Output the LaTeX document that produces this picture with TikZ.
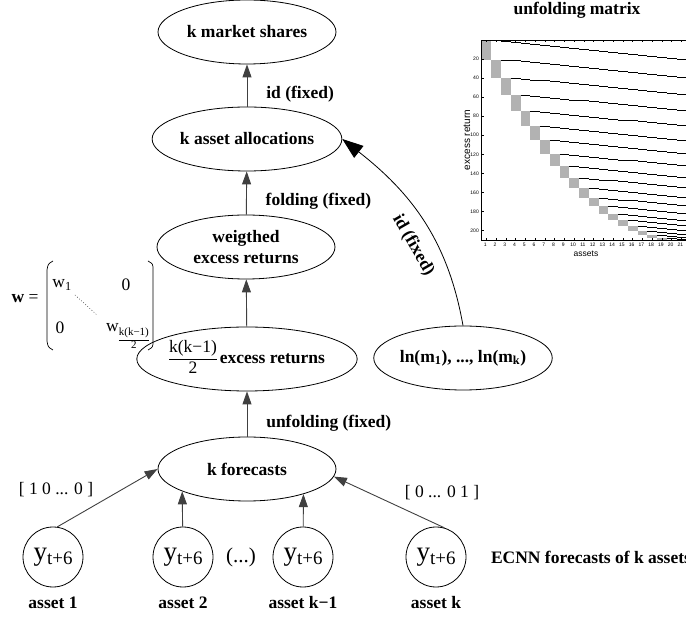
\documentclass[tikz,border=0pt]{standalone}
\usepackage{fontspec}
\setmainfont{Liberation Serif}
\setsansfont{Liberation Sans}
\usepackage{tikz}
\usetikzlibrary{shapes.geometric}
\usetikzlibrary{arrows.meta}

\begin{document}
\begin{tikzpicture}[x=1pt,y=1pt]
      \fontsize{17.5}{21}\selectfont
      \newcommand{\lbl}[1]{node[pos=0.3,anchor=west,xshift=13pt,font=\bfseries] {#1}}
      \newcommand{\txtfrac}[2]{{\mdseries\begin{tabular}{@{}c@{}}#1\\\hline #2\end{tabular}}}
      \newcommand{\yunit}{{\fontsize{27}{27}\selectfont y\raisebox{-4pt}{\fontsize{19}{19}\selectfont t+6}}}
      \tikzstyle{dedge} = [->,>={Triangle[length=13pt,width=9pt]},line width=0.9pt,draw=black!75]
      \tikzstyle{cedge} = [->,>={Triangle[length=21pt,width=15pt]},line width=0.8pt,draw=black]
      \tikzstyle{layer}=[
        ellipse,
        draw,
        line width=0.8pt,
        minimum width=178pt,
        minimum height=64pt,
        inner sep=0pt,
        align=center,
        font=\bfseries,
      ]
      \tikzstyle{unit}=[circle,draw,line width=0.8pt,minimum size=60pt,inner sep=0pt]
      \tikzstyle{tick}=[font=\sffamily\fontsize{5}{5}\selectfont,inner sep=0pt]

      \useasboundingbox (0,0) rectangle (686,619);

      \node[layer] (share) at (247,587) {k market shares};
      \node[layer] (alloc) at (247,480) {k asset allocations};
      \node[layer] (wret) at (246,372) {weigthed\\excess returns};
      \node[layer] (ret) at (247,260) {\txtfrac{k(k−1)}{2}\,excess returns};
      \node[layer] (fc) at (247,150) {k forecasts};
      \node[layer] (lnm) at (463,261) {ln(m\textsubscript{1}), ..., ln(m\textsubscript{k})};

      \node[unit] (a1) at (53,62) {\yunit};
      \node[unit] (a2) at (183,62) {\yunit};
      \node[unit] (a3) at (303,62) {\yunit};
      \node[unit] (a4) at (436,62) {\yunit};
      \node (more) at (241,62) {\fontsize{21}{21}\selectfont (...)};
      \node[font=\bfseries] (n1) at (53,16) {asset 1};
      \node[font=\bfseries] (n2) at (183,16) {asset 2};
      \node[font=\bfseries] (n3) at (303,16) {asset k−1};
      \node[font=\bfseries] (n4) at (436,16) {asset k};
      \node[font=\bfseries,anchor=west] (ecnn) at (485,62) {ECNN forecasts of k assets};
      \node (v1) at (56,129) {[ 1 0 ... 0 ]};
      \node (vk) at (442,126) {[ 0 ... 0 1 ]};

      \draw[dedge] (alloc)--(share) \lbl{id (fixed)};
      \draw[dedge] (wret)--(alloc) \lbl{folding (fixed)};
      \draw[dedge] (ret)--(wret);
      \draw[dedge] (fc)--(ret) \lbl{unfolding (fixed)};
      \draw[dedge] (a1.82)--(fc.180);
      \draw[dedge] (a2)--(fc.-161);
      \draw[dedge] (a3)--(fc.-24);
      \draw[dedge] (a4.74)--(fc.-5);
      \draw[cedge] (lnm.north) to[out=100,in=-38]
        node[sloped,below=7pt,pos=0.42,font=\bfseries] (idl) {id (fixed)} (alloc.east);

      % weight matrix
      \node[anchor=base] (weq) at (25,316) {\textbf{w} =};
      \node (w11) at (62,334) {w\textsubscript{1}};
      \node (w12) at (126,334) {0};
      \node (w21) at (60,291) {0};
      \node[anchor=base west,inner sep=0pt] (w22) at (106,287)
        {w\raisebox{-4pt}{\fontsize{11}{12}\selectfont\begin{tabular}[t]{@{}c@{}}k(k−1)\\\hline 2\end{tabular}}};
      \draw[dash pattern=on 0.8pt off 2pt] (75,324)--(97,304);
      \draw[line width=0.7pt] (53,358) .. controls (48,355) .. (47,349) -- (47,278) .. controls (48,272) .. (53,269);
      \draw[line width=0.7pt] (148,358) .. controls (153,355) .. (153,349) -- (153,278) .. controls (153,272) .. (148,269);

      % unfolding matrix
      \node[font=\bfseries] (title) at (577,609) {unfolding matrix};
      \foreach \i in {1,...,20} {
        \pgfmathtruncatemacro{\s}{(\i-1)*(42-\i)/2}
        \pgfmathtruncatemacro{\n}{21-\i}
        \fill[black!30] (481.5+\i*9.75-9.75,578.5-\s*0.9524) rectangle (481.5+\i*9.75,578.5-\s*0.9524-\n*0.9524);
        \foreach \m in {1,...,\n}
          \fill[black] (481.5+\i*9.75+\m*9.75-9.75,578.5-\s*0.9524-\m*0.9524+0.9524) rectangle +(9.75,-0.9524);
      }
      \foreach \c in {1,...,21} {
        \draw[line width=0.4pt] (481.5+\c*9.75-4.875,378.5) -- ++(0,2);
        \draw[line width=0.4pt] (481.5+\c*9.75-4.875,578.5) -- ++(0,-2);
        \node[tick] (xt\c) at (481.5+\c*9.75-5.9,374.5) {\c};
      }
      \foreach \r in {20,40,...,200} {
        \draw[line width=0.4pt] (481.5,578.5-\r*0.9524+0.476) -- ++(2,0);
        \node[tick,anchor=east] (yt\r) at (479,578.5-\r*0.9524+0.476) {\r};
      }
      \draw[line width=0.6pt] (700,578.5) -- (481.5,578.5) -- (481.5,378.5) -- (700,378.5);
      \node[font=\sffamily\fontsize{8.5}{9}\selectfont] (xl) at (586,365) {assets};
      \node[font=\sffamily\fontsize{10}{10}\selectfont,rotate=90] (yl) at (467,479) {excess return};
    \end{tikzpicture}
\end{document}
